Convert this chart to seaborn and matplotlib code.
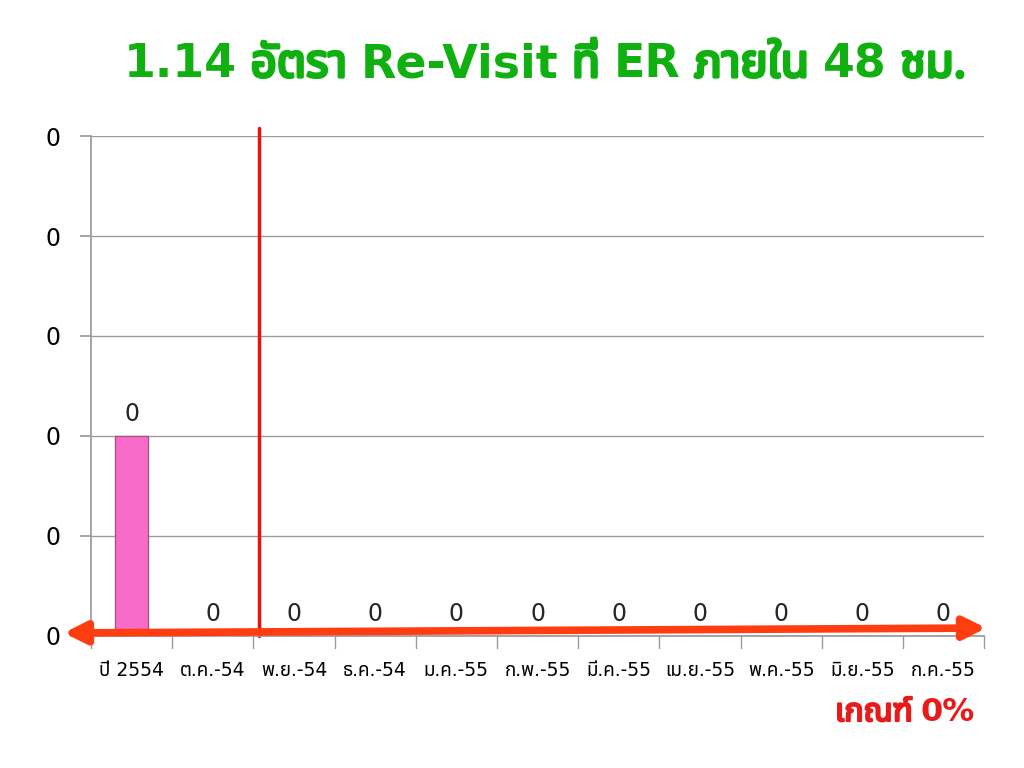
import matplotlib
matplotlib.use("Agg")
import matplotlib.pyplot as plt
import matplotlib.patheffects as pe
import seaborn as sns
import pandas as pd
from matplotlib import font_manager

# -----------------------------
# DATA
# -----------------------------
months = ["ปี 2554", "ต.ค.-54", "พ.ย.-54", "ธ.ค.-54", "ม.ค.-55", "ก.พ.-55",
          "มี.ค.-55", "เม.ย.-55", "พ.ค.-55", "มิ.ย.-55", "ก.ค.-55"]
revisit_rate = [0.002, 0, 0, 0, 0, 0, 0, 0, 0, 0, 0]
y_ticks = [0, 0.001, 0.002, 0.003, 0.004, 0.005]
title_text = "1.14 อัตรา Re-Visit ที่ ER ภายใน 48 ชม."
target_text = "เกณฑ์ 0%"

df = pd.DataFrame({"month": months, "rate": revisit_rate})

# -----------------------------
# FONTS
# -----------------------------
sns.set_theme(style="white")
installed = {f.name for f in font_manager.fontManager.ttflist}
thai = ["Noto Sans Thai", "Noto Sans Thai Looped", "Loma", "Garuda", "Waree",
        "Tlwg Typo", "Norasi", "Noto Sans"]
thai_fonts = [f for f in thai if f in installed]
plt.rcParams["font.family"] = ["DejaVu Sans"] + thai_fonts


def is_thai(word):
    return any("\u0e00" <= c <= "\u0e7f" for c in word)


def bold_line(fig, text, x, y, size, color, align="center", gap=0.3):
    # lay out word by word: latin words in DejaVu bold, thai words stroked
    renderer = fig.canvas.get_renderer()
    pieces = []
    for word in text.split(" "):
        if is_thai(word):
            t = fig.text(0, y, word, fontsize=size, color=color, va="baseline",
                         family=thai_fonts + ["DejaVu Sans"])
            t.set_path_effects([pe.withStroke(linewidth=size * 0.07, foreground=color)])
        else:
            t = fig.text(0, y, word, fontsize=size, color=color, va="baseline",
                         family="DejaVu Sans", fontweight="bold")
        pieces.append(t)
    widths = [p.get_window_extent(renderer).width / fig.bbox.width for p in pieces]
    space = gap * size / 72 * fig.dpi / fig.bbox.width
    total = sum(widths) + space * (len(pieces) - 1)
    start = x - total / 2 if align == "center" else x - total
    for p, w in zip(pieces, widths):
        p.set_x(start)
        start += w + space


# -----------------------------
# PLOT
# -----------------------------
fig = plt.figure(figsize=(10.24, 7.68), dpi=100)
ax = fig.add_axes([0.0889, 0.1719, 0.8721, 0.651])

sns.barplot(data=df, x="month", y="rate", color="#F96BC8", edgecolor="#9A5A86",
            linewidth=1, width=0.4, ax=ax, saturation=1)

ax.set_ylim(0, 0.005)
ax.set_yticks(y_ticks)
ax.set_yticklabels([f"{v:.0f}" for v in y_ticks], fontsize=17)
ax.set_xlim(-0.5, len(months) - 0.5)
ax.set_xticks(range(len(months)))
ax.set_xticklabels(months, fontsize=13.5)
ax.set_xlabel("")
ax.set_ylabel("")
ax.yaxis.grid(True, color="#9a9a9a", linewidth=1)
ax.set_axisbelow(True)
for s in ["top", "right"]:
    ax.spines[s].set_visible(False)
ax.spines["left"].set_color("#9a9a9a")
ax.spines["bottom"].set_color("#9a9a9a")
ax.tick_params(axis="y", length=8, color="#9a9a9a", left=True, pad=14,
               labelcolor="black")
ax.tick_params(axis="x", length=0, pad=18, labelcolor="black")

# category boundary ticks under the axis
for b in range(len(months) + 1):
    ax.plot([b - 0.5, b - 0.5], [0, -0.00012], color="#9a9a9a", lw=1, clip_on=False)

# data labels
for i, v in enumerate(revisit_rate):
    ax.text(i, v + 0.0001, f"{v:.0f}", ha="center", va="bottom", fontsize=17)

# red vertical divider
ax.plot([1.57, 1.57], [0, 0.00508], color="#E8130E", lw=2.5, clip_on=False)

# double-headed arrow along the baseline
fig.patches.append(matplotlib.patches.FancyArrowPatch(
    (61 / 1024, 1 - 633 / 768), (989 / 1024, 1 - 628 / 768),
    transform=fig.transFigure, arrowstyle="<|-|>,head_length=13,head_width=6.5",
    mutation_scale=1, color="#FF3D0F", lw=5.5))

bold_line(fig, title_text, 0.532, 1 - 77 / 768, 33, "#10B010")
bold_line(fig, target_text, 975 / 1024, 1 - 721 / 768, 23, "#E81A1A", align="right",
          gap=0.25)

plt.savefig("out.png", dpi=100)
plt.close()
